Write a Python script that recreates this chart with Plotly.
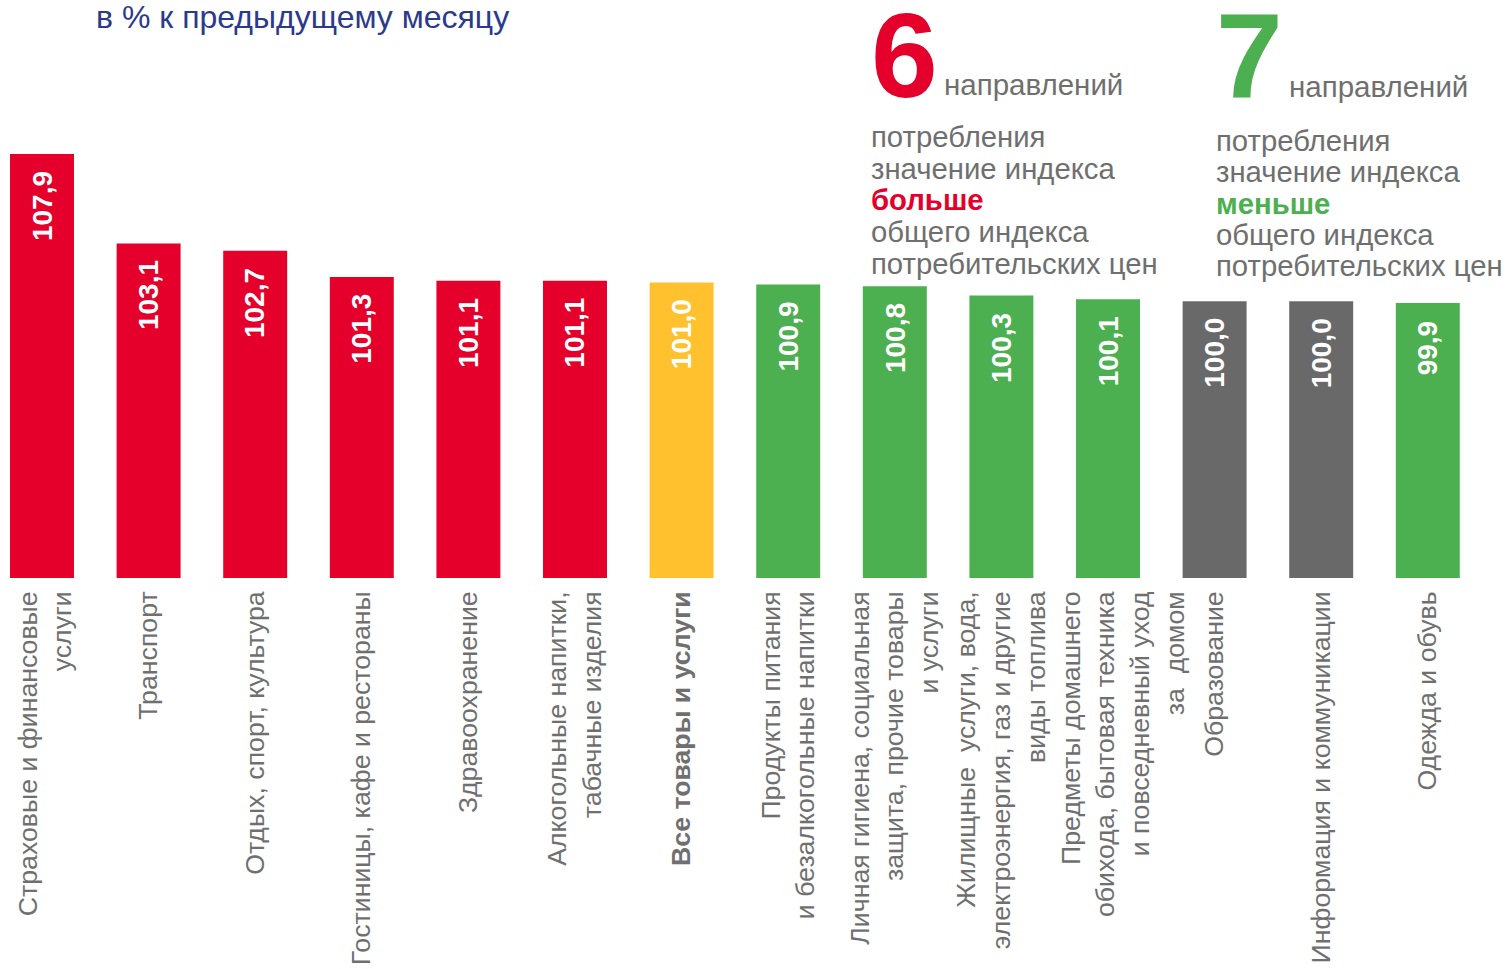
import plotly.graph_objects as go

categories = [
    "Страховые и финансовые<br>услуги",
    "Транспорт",
    "Отдых, спорт, культура",
    "Гостиницы, кафе и рестораны",
    "Здравоохранение",
    "Алкогольные напитки,<br>табачные изделия",
    "<b>Все товары и услуги</b>",
    "Продукты питания<br>и безалкогольные напитки",
    "Личная гигиена, социальная<br>защита, прочие товары<br>и услуги",
    "Жилищные  услуги, вода,<br>электроэнергия, газ и другие<br>виды топлива",
    "Предметы домашнего<br>обихода, бытовая техника<br>и повседневный уход<br>за  домом",
    "Образование",
    "Информация и коммуникации",
    "Одежда и обувь",
]
values = [107.9, 103.1, 102.7, 101.3, 101.1, 101.1, 101.0, 100.9, 100.8, 100.3, 100.1, 100.0, 100.0, 99.9]
value_labels = ["107,9", "103,1", "102,7", "101,3", "101,1", "101,1", "101,0",
                "100,9", "100,8", "100,3", "100,1", "100,0", "100,0", "99,9"]
groups = ["up", "up", "up", "up", "up", "up", "all", "down", "down", "down", "down", "flat", "flat", "down"]
# small horizontal nudges of the category label blocks (in category units)
label_nudge = [0.03, 0, 0, 0, 0, 0, 0, 0, 0, 0, 0.14, 0, 0, 0]

palette = {"up": "#e4002b", "all": "#ffc12d", "down": "#4caf50", "flat": "#696969"}
FONT = "Liberation Sans, Arial, sans-serif"

W, H = 1507, 969
PB = 578           # pixel row of the x axis
STEP = 106.6       # pixels per category
C0 = 42            # x of first bar center


def px_x(x):
    return x / W


def px_y(y):
    return (PB - y) / PB


xs = list(range(len(values)))
fig = go.Figure()
fig.add_trace(go.Bar(
    x=xs, y=values, width=0.6,
    marker=dict(color=[palette[g] for g in groups], line=dict(width=0)),
    hoverinfo="skip",
))

annotations = []
for i, (v, t) in enumerate(zip(values, value_labels)):
    annotations.append(dict(
        x=i, y=v, xref="x", yref="y", text=f"<b>{t}</b>", showarrow=False,
        textangle=-90, yanchor="top", xanchor="center", yshift=-15,
        font=dict(family=FONT, size=28, color="white"),
    ))

# title
annotations.append(dict(
    x=px_x(94), y=px_y(17), xref="paper", yref="paper", xanchor="left", yanchor="middle",
    text="в % к предыдущему месяцу", showarrow=False,
    font=dict(family=FONT, size=32, color="#2b3a8c"),
))

GRAY = "#6f6f6f"
blocks = [
    dict(num="6", color="#e4002b", left=869, word_x=942, word_y=84, lines_y=[137, 168, 200, 231, 263],
         key="больше"),
    dict(num="7", color="#4caf50", left=1214, word_x=1287, word_y=87, lines_y=[140, 171, 203, 234, 266],
         key="меньше"),
]
for b in blocks:
    annotations.append(dict(
        x=px_x(b["left"]), y=px_y(55), xref="paper", yref="paper", xanchor="left", yanchor="middle",
        text=f"<b>{b['num']}</b>", showarrow=False,
        font=dict(family=FONT, size=120, color=b["color"]),
    ))
    annotations.append(dict(
        x=px_x(b["word_x"]), y=px_y(b["word_y"]), xref="paper", yref="paper", xanchor="left",
        yanchor="middle", text="направлений", showarrow=False,
        font=dict(family=FONT, size=29.5, color=GRAY),
    ))
    texts = ["потребления", "значение индекса", f"<b>{b['key']}</b>", "общего индекса",
             "потребительских цен"]
    for j, (tx, ly) in enumerate(zip(texts, b["lines_y"])):
        annotations.append(dict(
            x=px_x(b["left"]), y=px_y(ly), xref="paper", yref="paper", xanchor="left",
            yanchor="middle", text=tx, showarrow=False,
            font=dict(family=FONT, size=29.3, color=b["color"] if j == 2 else GRAY),
        ))

x_left = -C0 / STEP
x_right = (W - C0) / STEP
fig.update_layout(
    width=W, height=H,
    margin=dict(l=0, r=0, t=0, b=H - PB, pad=0),
    paper_bgcolor="white", plot_bgcolor="white",
    showlegend=False,
    annotations=annotations,
    xaxis=dict(
        range=[x_left, x_right], tickmode="array",
        tickvals=[i + n for i, n in zip(xs, label_nudge)], ticktext=categories,
        tickangle=-90, showgrid=False, zeroline=False, showline=False, ticks="",
        tickfont=dict(family=FONT, size=26.7, color=GRAY), ticklabelstandoff=7,
    ),
    yaxis=dict(range=[85.135, 116.17], visible=False, showgrid=False, zeroline=False),
)

fig.write_html(
    "out.html",
    config={"displayModeBar": False, "staticPlot": True},
    post_script="document.body.style.margin='0';document.body.style.overflow='hidden';",
)
